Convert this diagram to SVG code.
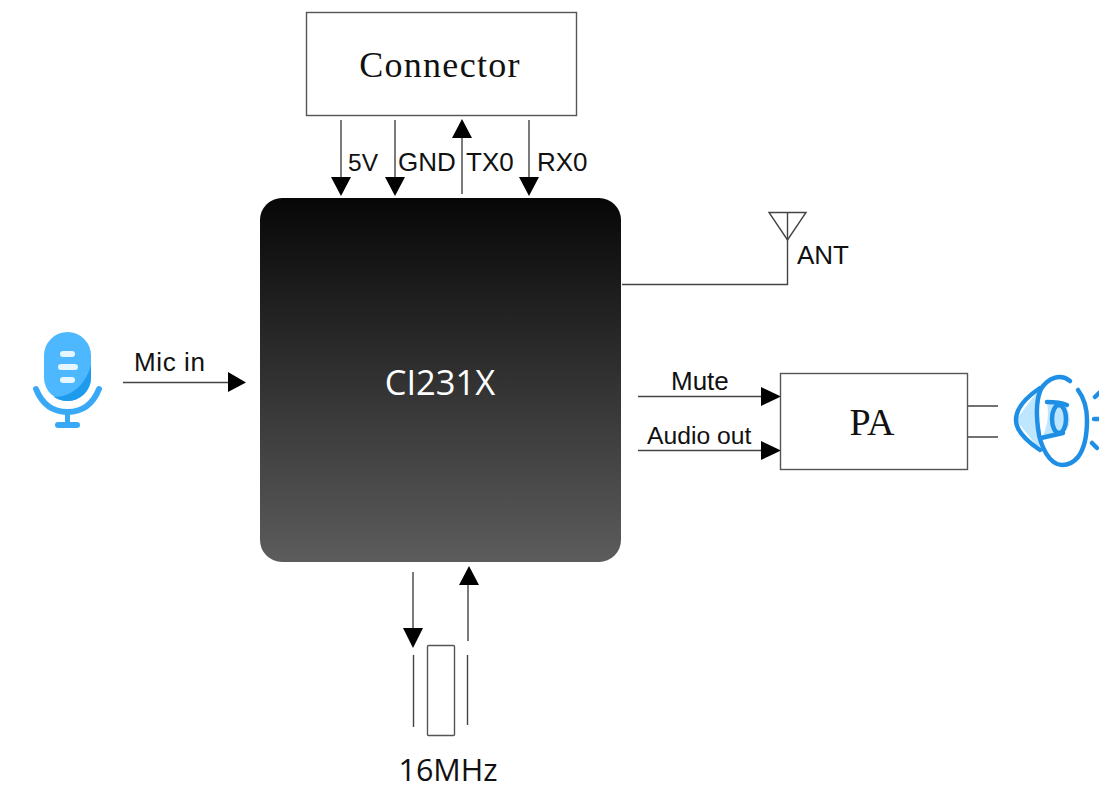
<svg xmlns="http://www.w3.org/2000/svg" width="1099" height="785" viewBox="0 0 1099 785">
<defs>
<linearGradient id="chip" x1="0" y1="0" x2="0" y2="1"><stop offset="0" stop-color="#070707"/><stop offset="1" stop-color="#5c5c5c"/></linearGradient>
<style>
.box{fill:#fff;stroke:#555;stroke-width:1.4}
.ln{fill:none;stroke:#444;stroke-width:1.4}
.ah{fill:#000;stroke:none}
.lbl{font-family:"Liberation Sans",Arial,sans-serif;font-size:26px;fill:#111}
.ser{font-family:"Liberation Serif","Times New Roman",serif;fill:#111}
.ic{fill:none;stroke:#1f8fe6;stroke-width:4.500;stroke-linecap:round;stroke-linejoin:round}
</style>
</defs>
<rect width="1099" height="785" fill="#fff"/>
<g id="connectors">
<path class="ln" d="M341 120V178M395 120V178M462 135V194M529 120V178"/>
<path class="ah" d="M331 177H351L341 196ZM385 177H405L395 196ZM452 138H472L462 119ZM519 177H539L529 196Z"/>
<path class="ln" d="M622 284.500H787.500V212"/>
<path class="ln" d="M123 382.500H230M638 396.500H762M638 450.500H762"/>
<path class="ah" d="M228 372L246 382.500L228 392ZM761 387L781 396.500L761 406ZM761 441L781 450.500L761 460Z"/>
<path class="ln" d="M413 572V630M468 581V641"/>
<path class="ah" d="M403 628H423L413 648ZM459 585H479L469 566Z"/>
<path class="ln" d="M968 406H998M968 437H998"/>
</g>
<g id="connector-box"><rect class="box" x="306.500" y="12.500" width="270" height="103"/><text class="ser" x="440" y="77" font-size="36" letter-spacing="1.300" text-anchor="middle">Connector</text></g>
<g id="pin-labels">
<text class="lbl" x="348" y="171" style="font-size:24.500px">5V</text>
<text class="lbl" x="398" y="171">GND</text>
<text class="lbl" x="466" y="171">TX0</text>
<text class="lbl" x="537" y="171">RX0</text>
</g>
<g id="chip"><rect x="260" y="198" width="361" height="364" rx="22" fill="url(#chip)"/><text x="440" y="395" font-family="'Open Sans',sans-serif" font-size="34.500" fill="#fff" text-anchor="middle">CI231X</text></g>
<g id="antenna"><path class="ln" d="M769 212.500H806L787.500 240Z"/><text class="lbl" x="797" y="264">ANT</text></g>
<g id="microphone">
<rect x="44" y="332" width="47" height="69" rx="23.500" fill="#4db8ff"/>
<path d="M91 365V378A23.500 23.500 0 0 1 67 401C62 401 57 399 54 397C72 397 86 384 91 365Z" fill="#1f9bee"/>
<path d="M36 389C42 404 53 412 67.500 412C82 412 93 404 99 389" fill="none" stroke="#3aa9f5" stroke-width="6" stroke-linecap="round"/>
<path d="M67.500 412V424" stroke="#3aa9f5" stroke-width="5"/>
<path d="M58 425H77" stroke="#3aa9f5" stroke-width="6" stroke-linecap="round"/>
<path d="M63 354H72M61 367H75M63 380H72" stroke="#e6f6ff" stroke-width="6" stroke-linecap="round"/>
<text class="lbl" x="134" y="371" letter-spacing="0.600">Mic in</text>
</g>
<g id="pa"><rect class="box" x="780.500" y="373.500" width="187" height="96"/><text class="ser" x="872" y="435" font-size="38" text-anchor="middle">PA</text></g>
<g id="signal-labels">
<text class="lbl" x="671" y="390">Mute</text>
<text class="lbl" x="647" y="444" style="font-size:24.700px">Audio out</text>
</g>
<g id="speaker">
<path d="M1040 388L1016 420L1040 450C1036 430 1036 408 1040 388Z" fill="#bfe6ff"/>
<path d="M1047 403L1066 405C1072 420 1070 428 1063 433L1042 438C1048 425 1049 415 1047 403Z" fill="#bfe6ff"/>
<path class="ic" d="M1070 381C1060 373 1048 378 1041 389C1035 402 1037 420 1038 428C1040 447 1050 465 1062 465C1069 465 1074 462 1078 457C1085 448 1087 435 1087 420C1087 408 1084 398 1078 390"/>
<path class="ic" d="M1040 388C1025 398 1016 408 1016 420C1016 430 1025 440 1040 450"/>
<path class="ic" d="M1047 402C1054 402 1062 403 1067 405M1041 438L1063 433"/>
<ellipse class="ic" cx="1059" cy="419" rx="7" ry="14"/>
<path class="ic" d="M1095 397L1099 393M1094 419H1099M1092 443L1097 448"/>
</g>
<g id="crystal">
<path class="ln" d="M413.500 655V727M467.500 655V725"/>
<rect class="box" x="427.500" y="645.500" width="27" height="90" rx="1"/>
<text x="448" y="781" font-family="'Open Sans',sans-serif" font-size="30.500" fill="#111" text-anchor="middle">16MHz</text>
</g>
</svg>
